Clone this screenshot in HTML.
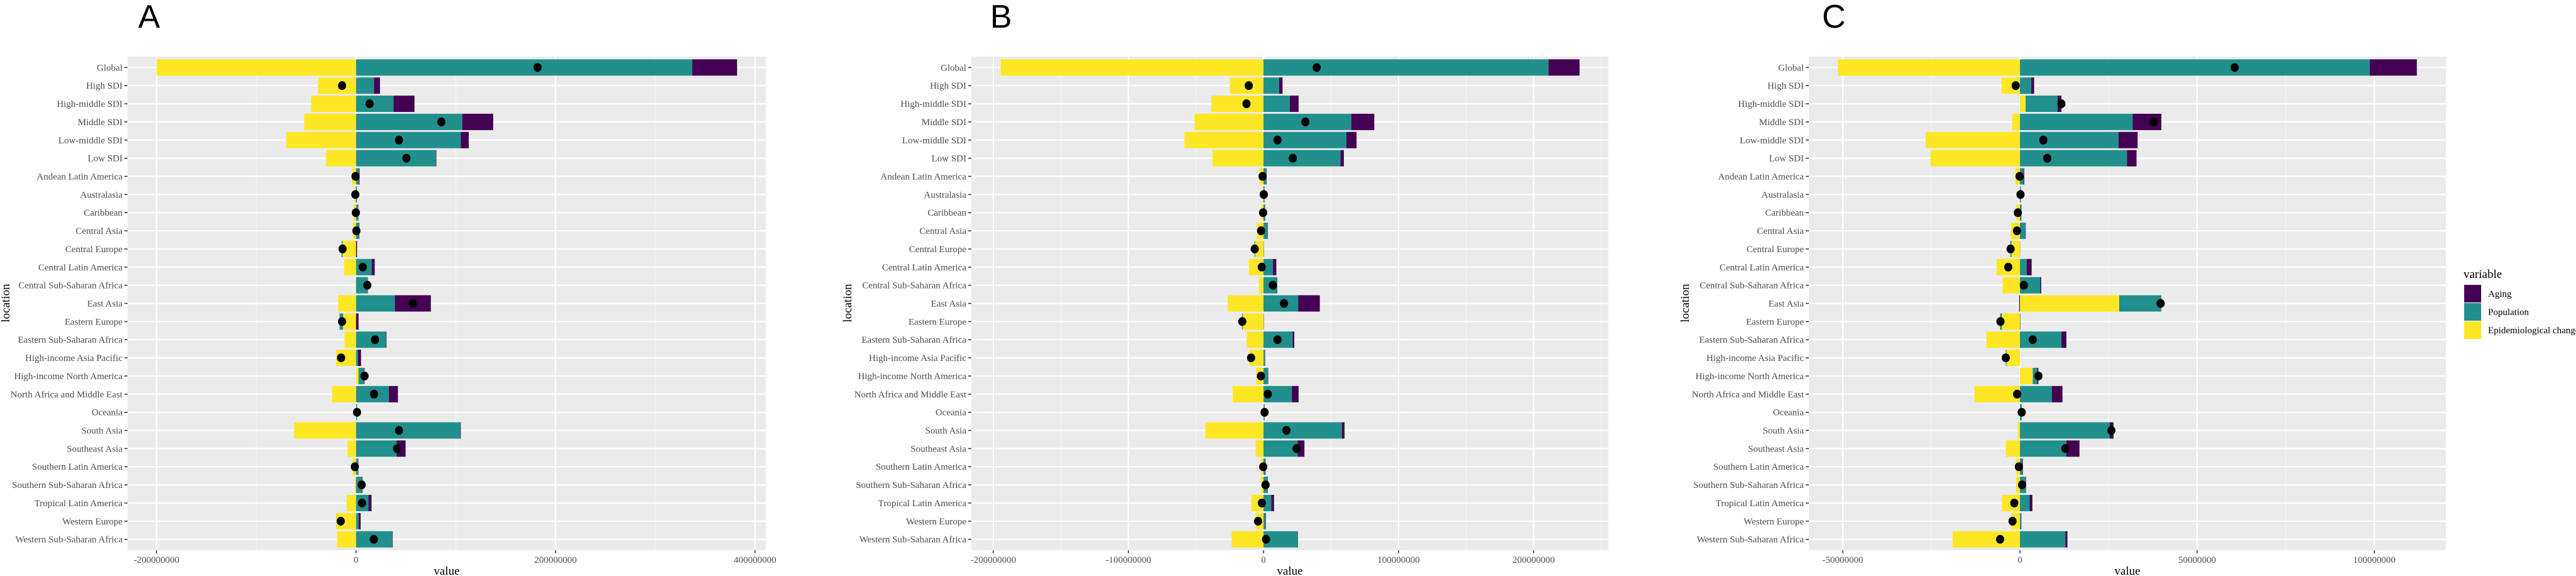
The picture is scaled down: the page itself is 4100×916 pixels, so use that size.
<!DOCTYPE html>
<html><head><meta charset="utf-8">
<style>
html,body{margin:0;padding:0;background:#fff;}
svg{display:block;}
</style></head>
<body>
<svg id="chart" xmlns="http://www.w3.org/2000/svg" width="4100" height="916" viewBox="0 0 4100 916" font-family="Liberation Serif, serif"></svg>
<script>
const locations = ["Global","High SDI","High-middle SDI","Middle SDI","Low-middle SDI","Low SDI","Andean Latin America","Australasia","Caribbean","Central Asia","Central Europe","Central Latin America","Central Sub-Saharan Africa","East Asia","Eastern Europe","Eastern Sub-Saharan Africa","High-income Asia Pacific","High-income North America","North Africa and Middle East","Oceania","South Asia","Southeast Asia","Southern Latin America","Southern Sub-Saharan Africa","Tropical Latin America","Western Europe","Western Sub-Saharan Africa"];
// values in millions
const epiA = [-200,-38,-45,-52,-70,-30,-4,-1.5,-2.5,-3,-13.5,-12,-0.5,-18,-13,-11.5,-20,2.5,-24,0,-62,-8.5,-3.5,-1,-9.5,-20,-19];
const popA = [337,18,37.6,106.5,105,80,3,0.5,2,3,-1,15.7,11.5,39,-3.5,30,2,5.5,33,1,104.5,40.7,2,6.3,12.5,2.6,36.5];
const agingA = [45,6,21,31,8,0.5,0.5,0.3,0.3,0.3,1,3,0.3,36,2.5,0.5,3,0.5,9,0,0.5,9,0.3,0.3,3,2,0.3];
const epiB = [-194.6,-25,-38.6,-51,-58.5,-37.8,-3,-0.5,-1.5,-5,-6.2,-10.8,-3.3,-26.5,-15.4,-12.4,-10.4,-5.4,-22.8,0,-43,-5.8,-1.7,-1.7,-9,-5.8,-23.6];
const popB = [211,11.6,19.5,65,61.4,57,2,0.5,1,3,-0.5,7,10,25.7,-0.5,21.6,1,3.3,21,0.8,58,25.3,1.2,3,5.8,1.6,25.3];
const agingB = [23,2.5,6.5,17,7.5,2.5,0.3,0.2,0.2,0.2,0.2,2.5,0.2,16,0.2,1.2,0.2,0.2,5,0,2,5,0.3,0.2,2,0.2,0.2];
const epiC = [-51.4,-5.2,1.6,-2.2,-26.6,-25.2,-1.3,-0.1,-1,-2.5,-2.4,-6.6,-4.9,28,-5.1,-9.5,-3.8,3.6,-12.8,0,-0.6,-4,-1.1,-1.1,-5.1,-2.5,-19];
const popC = [98.7,3.2,9,31.8,27.8,30.2,1,0.2,0.3,1.6,-0.3,1.9,5.7,11.9,-0.5,11.7,-0.2,1.3,9,0.5,25.3,13.1,0.6,1.6,2.7,0.3,12.8];
const agingC = [13.3,0.8,1.1,8.1,5.4,2.7,0.2,0.05,0.1,0.05,0.05,1.4,0.3,-0.2,0.1,1.4,0,0.3,3,0,1.1,3.7,0.2,0.1,0.8,0.1,0.6];
const ticksA = [-200,0,200,400];
const ticksB = [-200,-100,0,100,200];
const ticksC = [-50,0,50,100];
const tickLabelsA = ["-200000000","0","200000000","400000000"];
const tickLabelsB = ["-200000000","-100000000","0","100000000","200000000"];
const tickLabelsC = ["-50000000","0","50000000","100000000"];
const seriesNames = ["Aging","Population","Epidemiological change"];

const COL = {aging:"#440154", pop:"#21908C", epi:"#FDE725"};
const NS = "http://www.w3.org/2000/svg";
const svg = document.getElementById('chart');
function mk(tag, attrs, parent){
  const e = document.createElementNS(NS, tag);
  for (const k in attrs) e.setAttribute(k, attrs[k]);
  (parent||svg).appendChild(e);
  return e;
}
const TOP = 90, BOT = 875;

function panel(cfg){
  const g = mk('g', {});
  
  
  const x0 = cfg.left, x1 = cfg.right;
  const sx = v => cfg.zero + v * cfg.ppm;
  const n = locations.length;
  const band = (BOT - TOP) / (n - 1 + 1.2);
  const sy = i => TOP + band * (0.6 + i);
  const bg = mk('rect', {x:x0, y:TOP, width:x1-x0, height:BOT-TOP, fill:'#EBEBEB'}, g);
  
  
  // minor grid
  for (let k = 0; k < cfg.ticks.length - 1; k++) {
    const m = (cfg.ticks[k] + cfg.ticks[k+1]) / 2;
    mk('line', {x1:sx(m), x2:sx(m), y1:TOP, y2:BOT, stroke:'#F5F5F5', 'stroke-width':1.2}, g);
  }
  const m0 = cfg.ticks[0] - (cfg.ticks[1]-cfg.ticks[0])/2;
  if (sx(m0) > x0) mk('line', {x1:sx(m0), x2:sx(m0), y1:TOP, y2:BOT, stroke:'#F5F5F5', 'stroke-width':1.2}, g);
  const mL = cfg.ticks[cfg.ticks.length-1] + (cfg.ticks[1]-cfg.ticks[0])/2;
  if (sx(mL) < x1) mk('line', {x1:sx(mL), x2:sx(mL), y1:TOP, y2:BOT, stroke:'#F5F5F5', 'stroke-width':1.2}, g);
  // major grid
  cfg.ticks.forEach(t => mk('line', {x1:sx(t), x2:sx(t), y1:TOP, y2:BOT, stroke:'#fff', 'stroke-width':2.2}, g));
  for (let i = 0; i < n; i++) mk('line', {x1:x0, x2:x1, y1:sy(i), y2:sy(i), stroke:'#fff', 'stroke-width':2.2}, g);
  // bars
  const bh = band * 0.9;
  for (let i = 0; i < n; i++) {
    let pos = 0, neg = 0;
    const parts = [['epi', cfg.epi[i]], ['pop', cfg.pop[i]], ['aging', cfg.aging[i]]];
    parts.forEach(([key, v]) => {
      let a, b;
      if (v >= 0) { a = pos; b = pos + v; pos = b; } else { a = neg + v; b = neg; neg = a; }
      const r = mk('rect', {x:sx(a), y:sy(i)-bh/2, width:Math.max(0, sx(b)-sx(a)), height:bh, fill:COL[key]}, g);
      
      
    });
    const net = cfg.epi[i] + cfg.pop[i] + cfg.aging[i];
    const d = mk('ellipse', {cx:sx(net), cy:sy(i), rx:6.5, ry:7, fill:'#000'}, g);
    
    
    mk('line', {x1:x0-5, x2:x0, y1:sy(i), y2:sy(i), stroke:'#333', 'stroke-width':1.5}, g);
    const tl = mk('text', {x:x0-8, y:sy(i)+5, 'text-anchor':'end', 'font-size':15, fill:'#4D4D4D'}, g);
    tl.textContent = locations[i];
    
    
  }
  cfg.ticks.forEach((t, k) => {
    mk('line', {x1:sx(t), x2:sx(t), y1:BOT, y2:BOT+5, stroke:'#333', 'stroke-width':1.5}, g);
    const tx = mk('text', {x:sx(t), y:895, 'text-anchor':'middle', 'font-size':15, fill:'#4D4D4D'}, g);
    tx.textContent = cfg.labels[k];
    
    
  });
  const xt = mk('text', {x:(x0+x1)/2, y:914, 'text-anchor':'middle', 'font-size':19, fill:'#000'}, g);
  xt.textContent = 'value';
  
  
  const yt = mk('text', {x:cfg.locX, y:482, 'text-anchor':'middle', 'font-size':19, fill:'#000', transform:'rotate(-90 '+cfg.locX+' 482)'}, g);
  yt.textContent = 'location';
  
  
  const tt = mk('text', {x:cfg.titleX, y:44, 'font-size':52, 'font-family':'Liberation Sans, sans-serif', fill:'#000'}, g);
  tt.textContent = cfg.letter;
  
  
}

panel({letter:'A', left:203, right:1219, zero:566.7, ppm:317.5/200, ticks:ticksA, labels:tickLabelsA, epi:epiA, pop:popA, aging:agingA, locX:15, titleX:220});
panel({letter:'B', left:1546, right:2560, zero:2011, ppm:2.15, ticks:ticksB, labels:tickLabelsB, epi:epiB, pop:popB, aging:agingB, locX:1355, titleX:1576});
panel({letter:'C', left:2879, right:3893, zero:3215, ppm:5.64, ticks:ticksC, labels:tickLabelsC, epi:epiC, pop:popC, aging:agingC, locX:2688, titleX:2900});

// legend
const lg = mk('g', {});


const lt = mk('text', {x:3921, y:442, 'font-size':19, fill:'#000'}, lg);
lt.textContent = 'variable';


const lcols = [COL.aging, COL.pop, COL.epi];
seriesNames.forEach((s, k) => {
  const y = 453 + k * 29;
  const r = mk('rect', {x:3922, y:y, width:27, height:28, fill:lcols[k]}, lg);
  
  
  const t = mk('text', {x:3960, y:y+19, 'font-size':15, fill:'#000'}, lg);
  t.textContent = s;
  
  
});
</script>
</body></html>
